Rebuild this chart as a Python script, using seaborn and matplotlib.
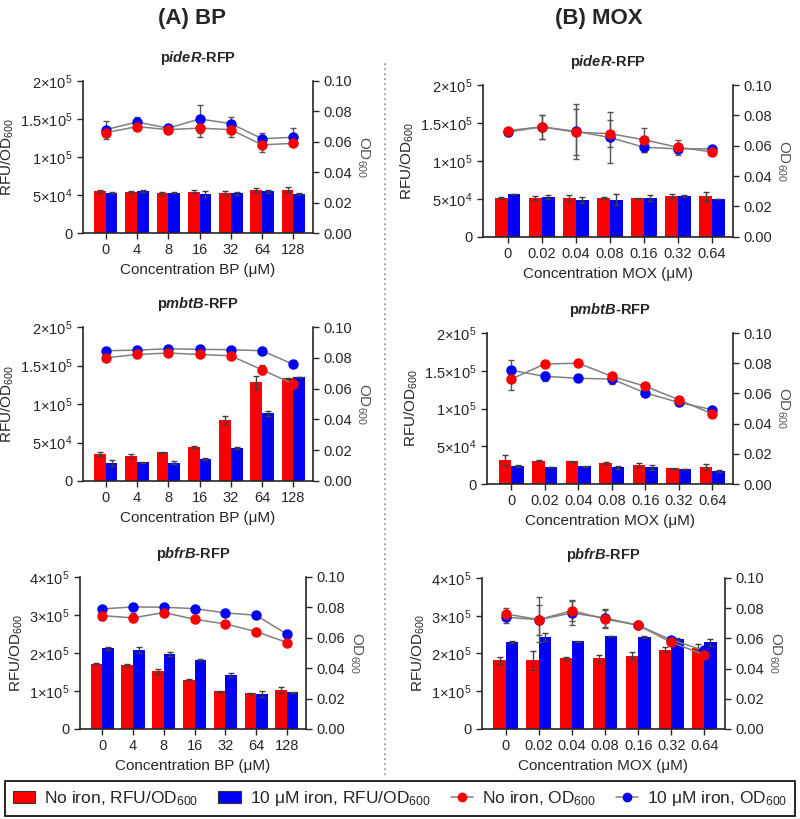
import matplotlib
matplotlib.use("Agg")
import matplotlib.pyplot as plt
from matplotlib.lines import Line2D
from matplotlib.patches import Patch
import numpy as np
import pandas as pd
import seaborn as sns

# concentrations (x categories)
bp_conc = ["0", "4", "8", "16", "32", "64", "128"]
mox_conc = ["0", "0.02", "0.04", "0.08", "0.16", "0.32", "0.64"]

# (A) BP, pideR-RFP
bp_ider_rfu_no = [5.5e4, 5.4e4, 5.2e4, 5.4e4, 5.3e4, 5.7e4, 5.7e4]
bp_ider_rfu_no_err = [2e3, 1e3, 1.5e3, 2e3, 2.5e3, 2.5e3, 3e3]
bp_ider_rfu_fe = [5.3e4, 5.5e4, 5.3e4, 5.1e4, 5.2e4, 5.5e4, 5.1e4]
bp_ider_rfu_fe_err = [1e3, 1e3, 1e3, 4e3, 2e3, 2e3, 1e3]
bp_ider_od_no = [0.066, 0.070, 0.068, 0.069, 0.068, 0.058, 0.059]
bp_ider_od_no_err = [0.003, 0.002, 0.001, 0.006, 0.005, 0.005, 0.002]
bp_ider_od_fe = [0.068, 0.073, 0.069, 0.075, 0.072, 0.062, 0.063]
bp_ider_od_fe_err = [0.006, 0.003, 0.001, 0.009, 0.004, 0.004, 0.006]

# (A) BP, pmbtB-RFP
bp_mbtb_rfu_no = [3.47e4, 3.3e4, 3.73e4, 4.4e4, 7.9e4, 1.28e5, 1.335e5]
bp_mbtb_rfu_no_err = [2.5e3, 2.5e3, 0.5e3, 1.5e3, 5e3, 8e3, 0.5e3]
bp_mbtb_rfu_fe = [2.3e4, 2.45e4, 2.4e4, 2.85e4, 4.3e4, 8.8e4, 1.35e5]
bp_mbtb_rfu_fe_err = [4e3, 0.5e3, 1.5e3, 1e3, 1e3, 3.5e3, 0.5e3]
bp_mbtb_od_no = [0.080, 0.0822, 0.0831, 0.0822, 0.0813, 0.0722, 0.063]
bp_mbtb_od_no_err = [0.001, 0.001, 0.0015, 0.0015, 0.001, 0.003, 0.001]
bp_mbtb_od_fe = [0.0846, 0.085, 0.0859, 0.0855, 0.0853, 0.0846, 0.0757]
bp_mbtb_od_fe_err = [0.0005, 0.0005, 0.0005, 0.0005, 0.0005, 0.0005, 0.0005]

# (A) BP, pbfrB-RFP
bp_bfrb_rfu_no = [1.72e5, 1.68e5, 1.52e5, 1.3e5, 0.99e5, 0.94e5, 1.02e5]
bp_bfrb_rfu_no_err = [2e3, 2e3, 6e3, 1e3, 1e3, 1e3, 8e3]
bp_bfrb_rfu_fe = [2.13e5, 2.08e5, 1.98e5, 1.82e5, 1.42e5, 0.91e5, 0.97e5]
bp_bfrb_rfu_fe_err = [4e3, 8e3, 5e3, 1e3, 5e3, 8e3, 1e3]
bp_bfrb_od_no = [0.0746, 0.0731, 0.0766, 0.0722, 0.0691, 0.0641, 0.0569]
bp_bfrb_od_no_err = [0.003, 0.003, 0.002, 0.001, 0.001, 0.001, 0.001]
bp_bfrb_od_fe = [0.079, 0.0803, 0.0801, 0.0792, 0.0764, 0.0748, 0.0624]
bp_bfrb_od_fe_err = [0.0005, 0.0005, 0.0005, 0.0005, 0.0005, 0.0005, 0.0005]

# (B) MOX, pideR-RFP
mox_ider_rfu_no = [5.15e4, 5.1e4, 5.15e4, 5.1e4, 5.05e4, 5.4e4, 5.35e4]
mox_ider_rfu_no_err = [1.5e3, 2.5e3, 4e3, 1e3, 1e3, 3e3, 6e3]
mox_ider_rfu_fe = [5.7e4, 5.25e4, 4.8e4, 4.9e4, 5.15e4, 5.4e4, 5.0e4]
mox_ider_rfu_fe_err = [0, 3e3, 4e3, 7e3, 4e3, 1e3, 0]
mox_ider_od_no = [0.070, 0.0725, 0.069, 0.068, 0.064, 0.059, 0.056]
mox_ider_od_no_err = [0.001, 0.008, 0.015, 0.009, 0.008, 0.005, 0.001]
mox_ider_od_fe = [0.069, 0.0725, 0.0695, 0.0655, 0.059, 0.058, 0.058]
mox_ider_od_fe_err = [0.001, 0.008, 0.018, 0.017, 0.003, 0.003, 0.001]

# (B) MOX, pmbtB-RFP
mox_mbtb_rfu_no = [3.18e4, 3.1e4, 3.0e4, 2.78e4, 2.5e4, 2.07e4, 2.2e4]
mox_mbtb_rfu_no_err = [6e3, 0.5e3, 0.5e3, 1e3, 3e3, 0.5e3, 4e3]
mox_mbtb_rfu_fe = [2.34e4, 2.2e4, 2.34e4, 2.25e4, 2.2e4, 1.99e4, 1.68e4]
mox_mbtb_rfu_fe_err = [1.5e3, 0, 1e3, 2e3, 3e3, 0, 1.5e3]
mox_mbtb_od_no = [0.0695, 0.0795, 0.080, 0.0713, 0.0647, 0.0558, 0.0464]
mox_mbtb_od_no_err = [0.007, 0.001, 0.001, 0.002, 0.001, 0.001, 0.001]
mox_mbtb_od_fe = [0.0753, 0.0713, 0.070, 0.0695, 0.0603, 0.054, 0.0492]
mox_mbtb_od_fe_err = [0.007, 0.003, 0.002, 0.003, 0.001, 0.001, 0.001]

# (B) MOX, pbfrB-RFP
mox_bfrb_rfu_no = [1.82e5, 1.82e5, 1.88e5, 1.87e5, 1.94e5, 2.1e5, 2.14e5]
mox_bfrb_rfu_no_err = [9e3, 2.5e4, 4e3, 9e3, 9e3, 6e3, 1e4]
mox_bfrb_rfu_fe = [2.3e5, 2.43e5, 2.32e5, 2.46e5, 2.43e5, 2.38e5, 2.3e5]
mox_bfrb_rfu_fe_err = [3e3, 1e4, 1e3, 1e3, 2e3, 2e3, 9e3]
mox_bfrb_od_no = [0.0762, 0.0724, 0.0784, 0.0728, 0.0687, 0.0574, 0.0492]
mox_bfrb_od_no_err = [0.004, 0.010, 0.007, 0.006, 0.001, 0.001, 0.001]
mox_bfrb_od_fe = [0.074, 0.0724, 0.0768, 0.0735, 0.0687, 0.059, 0.052]
mox_bfrb_od_fe_err = [0.004, 0.015, 0.008, 0.006, 0.001, 0.001, 0.002]

RED = "#fa0000"
BLUE = "#0000f5"
LINE_GRAY = "#808080"

sns.set_style("ticks")
plt.rcParams["font.family"] = ["Liberation Sans", "DejaVu Sans"]
plt.rcParams["mathtext.fontset"] = "custom"
plt.rcParams["mathtext.rm"] = "Liberation Sans"
plt.rcParams["mathtext.it"] = "Liberation Sans:italic"
plt.rcParams["mathtext.bf"] = "Liberation Sans:bold"
plt.rcParams["mathtext.bfit"] = "Liberation Sans:italic:bold"

fig = plt.figure(figsize=(8, 8.19), dpi=100)

# left, bottom, width, height
positions = [
    [0.104, 0.7155, 0.287, 0.1856],
    [0.604, 0.711, 0.3125, 0.185],
    [0.104, 0.4127, 0.287, 0.188],
    [0.609, 0.409, 0.3075, 0.1844],
    [0.100, 0.1099, 0.2825, 0.1856],
    [0.6025, 0.1099, 0.3035, 0.1844],
]

panels = [
    ("ideR", bp_conc, "BP", bp_ider_rfu_no, bp_ider_rfu_no_err, bp_ider_rfu_fe, bp_ider_rfu_fe_err,
     bp_ider_od_no, bp_ider_od_no_err, bp_ider_od_fe, bp_ider_od_fe_err, 2e5),
    ("ideR", mox_conc, "MOX", mox_ider_rfu_no, mox_ider_rfu_no_err, mox_ider_rfu_fe, mox_ider_rfu_fe_err,
     mox_ider_od_no, mox_ider_od_no_err, mox_ider_od_fe, mox_ider_od_fe_err, 2e5),
    ("mbtB", bp_conc, "BP", bp_mbtb_rfu_no, bp_mbtb_rfu_no_err, bp_mbtb_rfu_fe, bp_mbtb_rfu_fe_err,
     bp_mbtb_od_no, bp_mbtb_od_no_err, bp_mbtb_od_fe, bp_mbtb_od_fe_err, 2e5),
    ("mbtB", mox_conc, "MOX", mox_mbtb_rfu_no, mox_mbtb_rfu_no_err, mox_mbtb_rfu_fe, mox_mbtb_rfu_fe_err,
     mox_mbtb_od_no, mox_mbtb_od_no_err, mox_mbtb_od_fe, mox_mbtb_od_fe_err, 2e5),
    ("bfrB", bp_conc, "BP", bp_bfrb_rfu_no, bp_bfrb_rfu_no_err, bp_bfrb_rfu_fe, bp_bfrb_rfu_fe_err,
     bp_bfrb_od_no, bp_bfrb_od_no_err, bp_bfrb_od_fe, bp_bfrb_od_fe_err, 4e5),
    ("bfrB", mox_conc, "MOX", mox_bfrb_rfu_no, mox_bfrb_rfu_no_err, mox_bfrb_rfu_fe, mox_bfrb_rfu_fe_err,
     mox_bfrb_od_no, mox_bfrb_od_no_err, mox_bfrb_od_fe, mox_bfrb_od_fe_err, 4e5),
]

ticks_2e5 = ([0, 5e4, 1e5, 1.5e5, 2e5],
             ["0", r"5×10$^4$", r"1×10$^5$", r"1.5×10$^5$", r"2×10$^5$"])
ticks_4e5 = ([0, 1e5, 2e5, 3e5, 4e5],
             ["0", r"1×10$^5$", r"2×10$^5$", r"3×10$^5$", r"4×10$^5$"])

for pos, (gene, conc, drug, rno, rno_e, rfe, rfe_e, ono, ono_e, ofe, ofe_e, ymax) in zip(positions, panels):
    ax = fig.add_axes(pos)
    df = pd.DataFrame({
        "conc": conc * 2,
        "cond": ["no"] * len(conc) + ["fe"] * len(conc),
        "rfu": list(rno) + list(rfe),
    })
    sns.barplot(data=df, x="conc", y="rfu", hue="cond", order=conc, hue_order=["no", "fe"],
                palette=[RED, BLUE], width=0.75, errorbar=None, legend=False, ax=ax,
                edgecolor="none", saturation=1)
    # error bars on top of bars
    for cont, vals, errs in zip(ax.containers, [rno, rfe], [rno_e, rfe_e]):
        xs = [p.get_x() + p.get_width() / 2 for p in cont.patches]
        ax.errorbar(xs, vals, yerr=errs, fmt="none", ecolor="#404040", elinewidth=1,
                    capsize=2.2, capthick=1, zorder=3)
    ax.set_xlim(-0.72, 6.62)
    ax.set_ylim(0, ymax)
    tk = ticks_2e5 if ymax == 2e5 else ticks_4e5
    ax.set_yticks(tk[0])
    ax.set_yticklabels(tk[1], fontsize=10.5)
    ax.tick_params(axis="x", labelsize=10.5, length=4, width=1)
    ax.tick_params(axis="y", length=4, width=1)
    ax.set_xlabel(f"Concentration {drug} (μM)", fontsize=11, labelpad=4)
    ax.set_ylabel(r"RFU/OD$_{600}$", fontsize=11, labelpad=3)
    ax.set_title(r"p$\mathbfit{" + gene + r"}$-RFP", fontsize=10.5, fontweight="bold", pad=14)
    for s in ["left", "bottom"]:
        ax.spines[s].set_linewidth(1.2)
    ax.spines["top"].set_visible(False)
    ax.spines["right"].set_visible(False)

    ax2 = ax.twinx()
    xi = np.arange(len(conc))
    for od, ode, col in [(ofe, ofe_e, BLUE), (ono, ono_e, RED)]:
        ax2.errorbar(xi, od, yerr=ode, fmt="-o", color=LINE_GRAY, lw=1.1, ms=6.5,
                     mfc=col, mec=col, ecolor="#555555", elinewidth=1, capsize=2.5, capthick=1)
    ax2.set_ylim(0, 0.1)
    ax2.set_yticks([0, 0.02, 0.04, 0.06, 0.08, 0.10])
    ax2.set_yticklabels(["0.00", "0.02", "0.04", "0.06", "0.08", "0.10"], fontsize=10.5)
    ax2.tick_params(axis="y", length=4, width=1)
    ax2.set_ylabel(r"OD$_{600}$", fontsize=11, rotation=270, labelpad=14, color="#555555")
    ax2.spines["right"].set_linewidth(1.2)
    ax2.spines["top"].set_visible(False)
    ax2.spines["left"].set_visible(False)
    ax2.spines["bottom"].set_visible(False)

# column headers
fig.text(0.24, 0.977, "(A) BP", fontsize=16, fontweight="bold", ha="center", va="center")
fig.text(0.749, 0.977, "(B) MOX", fontsize=16, fontweight="bold", ha="center", va="center")

# dotted separator
fig.add_artist(Line2D([0.481, 0.481], [0.054, 0.925], linestyle=(0, (1, 2)), color="#909090", lw=1.2))

handles = [
    Patch(facecolor=RED, edgecolor="#333333", lw=0.8),
    Patch(facecolor=BLUE, edgecolor="#333333", lw=0.8),
    Line2D([], [], color=LINE_GRAY, marker="o", mfc=RED, mec=RED, ms=6, lw=1.1),
    Line2D([], [], color=LINE_GRAY, marker="o", mfc=BLUE, mec=BLUE, ms=6, lw=1.1),
]
labels = [r"No iron, RFU/OD$_{600}$", r"10 μM iron, RFU/OD$_{600}$",
          r"No iron, OD$_{600}$", r"10 μM iron, OD$_{600}$"]
leg = fig.legend(handles, labels, loc="lower left", bbox_to_anchor=(0.006, 0.004, 0.988, 0.034),
                 mode="expand", ncol=4, fontsize=12.5, frameon=True, fancybox=False,
                 edgecolor="black", framealpha=1, handlelength=1.3, handletextpad=0.5,
                 columnspacing=1.0, borderpad=0.45, borderaxespad=0)
leg.get_frame().set_linewidth(1.2)

plt.savefig("out.png", dpi=100)
